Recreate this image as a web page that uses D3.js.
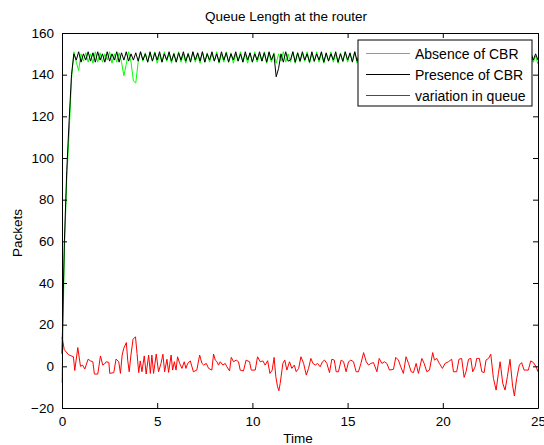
<!DOCTYPE html>
<html>
<head>
<meta charset="utf-8">
<script src="https://cdn.jsdelivr.net/npm/d3@7"></script>
<style>
    body { margin: 0; background: #fff; }
    text { font-family: "Liberation Sans", Arial, sans-serif; }
</style>
</head>
<body>
<div class="queue-chart"></div>
<script>
// queue length samples, one every 0.125 s from t = 0 to t = 25
let absenceCBR = [
    -8, 55, 90, 112, 138, 151, 146, 142,
    150, 146.5, 150.5, 146, 150, 145.5, 151, 146,
    150.5, 146, 150, 147, 151, 145.5, 150, 146,
    150.5, 146, 139.5, 145, 151, 146, 137, 136,
    146, 151, 146.5, 150.5, 146, 150, 146.5, 151,
    145.5, 150, 146, 151, 146.5, 150, 145.5, 150.5,
    146, 151, 146, 150, 145.5, 150.5, 146.5, 151,
    146, 150, 145.5, 151, 146, 150.5, 146, 150,
    146.5, 151, 145.5, 150, 146, 151, 146, 150.5,
    145.5, 150, 146.5, 151, 146, 150, 145.5, 150.5,
    146, 151, 146, 150, 146.5, 151, 145.5, 150,
    146, 150.5, 145.5, 150, 146.5, 151, 146, 150,
    146, 151, 145.5, 150.5, 146, 150, 146.5, 151,
    145.5, 150, 146, 151, 146, 150.5, 145.5, 150,
    146.5, 151, 146, 150, 145.5, 150.5, 146, 151,
    146, 150, 146.5, 151, 145.5, 150, 146, 150.5,
    146, 151, 145.5, 150, 146.5, 151, 146, 150,
    145.5, 150.5, 146, 151, 146, 150, 146.5, 151,
    146, 150, 145.5, 150.5, 146, 151, 146, 150,
    146.5, 151, 145.5, 150, 146, 150.5, 146, 151,
    145.5, 150, 146.5, 151, 146, 150, 145.5, 150.5,
    146, 151, 146, 150, 146.5, 151, 145.5, 150,
    146, 150.5, 146, 151, 145.5, 150, 146.5, 151,
    146, 150, 145.5, 150.5, 146, 151, 146, 150,
    146.5, 151, 146, 150, 148, 151, 146, 149,
    145
]
let presenceCBR = [
    6, 60, 94, 118, 140, 150, 147, 151,
    146, 150, 147, 151, 146.5, 150.5, 146, 151,
    147, 150, 146, 151, 146.5, 150, 147, 151,
    146, 150.5, 147, 151, 146.5, 150, 147, 150.5,
    146.5, 151, 147, 150, 146, 151, 146.5, 150.5,
    147, 151, 146, 150, 147, 151, 146.5, 150,
    146, 150.5, 147, 151, 146.5, 150, 146, 151,
    147, 150.5, 146.5, 151, 146, 150, 147, 151,
    146.5, 150, 146, 151, 147, 150.5, 146, 150,
    147, 151, 146.5, 150, 146, 151, 147, 150.5,
    146, 150, 147, 151, 146.5, 150.5, 146, 151,
    147, 150, 139, 143, 150, 146, 151, 146.5,
    147, 151, 146, 150.5, 146.5, 151, 147, 150,
    146, 151, 146.5, 150, 147, 151, 146, 150.5,
    146.5, 150, 147, 151, 146, 150, 146.5, 151,
    147, 150.5, 146, 151, 146.5, 150, 147, 151,
    146, 150, 146.5, 151, 147, 150.5, 146, 150,
    147, 151, 146.5, 150, 146, 151, 147, 150.5,
    146.5, 151, 146, 150, 147, 151, 146.5, 150,
    146, 150.5, 147, 151, 146.5, 150, 146, 151,
    147, 150, 146.5, 151, 146, 150.5, 147, 151,
    146, 151, 147, 150, 146.5, 151, 146, 150.5,
    147, 150, 146, 151, 146.5, 150, 147, 151,
    146.5, 150.5, 146, 151, 147, 150, 146, 151,
    147, 150, 146.5, 151, 146, 150.5, 147, 150,
    147
]
// variation in queue, read point by point
let variationTime = [
    0, 0.12, 0.35, 0.6, 0.67, 0.83, 0.97, 1.08, 1.2, 1.37, 1.5, 1.62, 1.7, 1.88,
    2.02, 2.14, 2.23, 2.32, 2.46, 2.51, 2.72, 2.84, 2.98, 3.07, 3.16, 3.24, 3.38,
    3.45, 3.53, 3.62, 3.73, 3.86, 3.94, 4.03, 4.11, 4.2, 4.32, 4.42, 4.55, 4.64,
    4.72, 4.81, 4.95, 5.07, 5.2, 5.3, 5.39, 5.51, 5.6, 5.73, 5.81, 5.9, 5.99,
    6.07, 6.18, 6.3, 6.42, 6.51, 6.6, 6.74, 6.9, 7.08, 7.23, 7.35, 7.44, 7.58,
    7.7, 7.87, 7.96, 8.05, 8.14, 8.22, 8.31, 8.45, 8.57, 8.66, 8.8, 8.89, 9.01,
    9.15, 9.27, 9.36, 9.53, 9.67, 9.85, 9.94, 10.15, 10.27, 10.41, 10.55, 10.67,
    10.8, 10.92, 11.04, 11.14, 11.23, 11.32, 11.39, 11.46, 11.6, 11.7, 11.81,
    11.95, 12.07, 12.2, 12.3, 12.43, 12.55, 12.69, 12.83, 12.95, 13.07, 13.18,
    13.3, 13.42, 13.56, 13.68, 13.79, 13.91, 14.05, 14.17, 14.3, 14.4, 14.52,
    14.66, 14.79, 14.92, 15.05, 15.17, 15.31, 15.45, 15.57, 15.7, 15.84, 15.98,
    16.1, 16.22, 16.36, 16.54, 16.66, 16.8, 16.94, 17.06, 17.2, 17.41, 17.53,
    17.67, 17.79, 17.93, 18.07, 18.2, 18.34, 18.46, 18.6, 18.72, 18.9, 19.02,
    19.16, 19.3, 19.47, 19.56, 19.68, 19.82, 19.98, 20.12, 20.29, 20.47, 20.56,
    20.73, 20.85, 20.99, 21.12, 21.22, 21.35, 21.47, 21.57, 21.7, 21.78, 21.92,
    22.05, 22.17, 22.27, 22.4, 22.52, 22.66, 22.8, 22.92, 23.01, 23.15, 23.27,
    23.39, 23.53, 23.66, 23.76, 23.88, 24.02, 24.14, 24.27, 24.37, 24.49, 24.62,
    24.76, 24.9, 25
]
let variationValue = [
    14, 8, 5.5, 4.6, -2, 9, 0, 0.6, -1.3, 3.4, 2.6, 2.2, -3.7, -3.7,
    5, 0.6, 1.1, 2.2, 1.9, -3.4, -3, 3.5, 2.2, -3.4, 5.4, 8.6, 11.4,
    3, -2.6, 5.4, 13, 14.2, 6.2, -3, 2.6, -2.6, 5, -3.7, 5.4, -3.4,
    5.4, -3.4, 5.9, -2.6, 1.4, 5.8, -2.6, 3.4, -2.9, 5.4, -1.8, 2.2, -1.8,
    4.6, 1.4, -1, 2.2, -1, 1.4, 2.6, -2.6, -1.8, 5.4, 1.4, 0.6, 1.4,
    -1, -1.8, 5.9, 3, 2.2, 0.6, 2.2, 0.6, 1.4, -0.2, -2.2, 4.3, 2.2,
    3, 2.2, -1.8, -2.2, 3, 2.2, -1.8, -1.8, 4.6, 2.2, 2.6, 0.6,
    2.7, -3.4, -1.8, 4.3, -5, -9.8, -11.7, -8.2, 1.4, 3, -1.8,
    2.2, -1, 0.6, -2.6, -1, 4.6, 1.4, -4.2, -1, 3.8, 1.4,
    0.6, 1.4, -0.2, 2.2, 3, 1.4, -3, 3.4, 3, -2.6, -2.6,
    3, 2.2, -2.6, 2.2, 3, 2.2, -2.6, -2.6, 1.4, 6.6, 2.2,
    0.6, 1.4, 1.8, -2.6, 3.8, 1.4, 2.2, 1.4, -1.8, -1.4, 4.3,
    3, -0.2, -3.4, 4.6, 1.4, -2.6, -3, 1.4, -3.4, 3.8, 1.4,
    -2.6, -1.8, 6.6, 3, 3.8, 1.4, -1, 1.4, 2.2, 3.4, -2.6,
    -2.6, 3.4, 3.8, -5.3, -2.6, 3.4, 3.8, -2.6, -0.2, 3.8, 3.8,
    -2.6, -3, 3, 3.8, 5.8, -5.8, -11.4, -3.4, 2.2, -8.2, -11.4,
    -5, 3.4, -9, -14.2, -5.8, 0.6, 1.8, -1.8, -1.8, -1.8, 2.6,
    1.8, -0.2, -2.6
]
let legendLabels = ["Absence of CBR", "Presence of CBR", "variation in queue"]
let lineColors = ["#00ff00", "#000000", "#ff0000"]
let xTickValues = [0, 5, 10, 15, 20, 25]
let yTickValues = [-20, 0, 20, 40, 60, 80, 100, 120, 140, 160]

let width = 544,
    height = 445,
    marginLeft = 62,
    marginRight = 6,
    marginTop = 33,
    marginBottom = 37,
    fontSize = 13.5

let svg = d3.select(".queue-chart")
    .append("svg")
    .attr("width", width)
    .attr("height", height)

let xScale = d3.scaleLinear()
    .domain([0, 25])
    .range([marginLeft, width - marginRight])
let yScale = d3.scaleLinear()
    .domain([-20, 160])
    .range([height - marginBottom, marginTop])

let sampleTime = absenceCBR.map((d, i) => i * 0.125)
let series = [
    absenceCBR.map((d, i) => [sampleTime[i], d]),
    presenceCBR.map((d, i) => [sampleTime[i], d]),
    variationValue.map((d, i) => [variationTime[i], d])
]

let line = d3.line()
    .x((d) => xScale(d[0]))
    .y((d) => yScale(d[1]))

series.forEach((item, index) => {
    svg.append("path")
        .attr("class", "series-line")
        .attr("fill", "none")
        .attr("stroke", lineColors[index])
        .attr("stroke-width", 1)
        .attr("d", line(item))
})

//坐标轴, 刻度朝内
svg.append("g")
    .attr("transform", `translate(0,${height - marginBottom})`)
    .call(d3.axisBottom(xScale).tickValues(xTickValues).tickSizeInner(-5).tickSizeOuter(0).tickPadding(8))
svg.append("g")
    .attr("transform", `translate(0,${marginTop})`)
    .call(d3.axisTop(xScale).tickValues(xTickValues).tickSizeInner(-5).tickSizeOuter(0).tickFormat(""))
svg.append("g")
    .attr("transform", `translate(${marginLeft},0)`)
    .call(d3.axisLeft(yScale).tickValues(yTickValues).tickSizeInner(-5).tickSizeOuter(0).tickPadding(8))
svg.append("g")
    .attr("transform", `translate(${width - marginRight},0)`)
    .call(d3.axisRight(yScale).tickValues(yTickValues).tickSizeInner(-5).tickSizeOuter(0).tickFormat(""))

svg.selectAll(".domain").attr("stroke", "#000")
svg.selectAll(".tick line").attr("stroke", "#000")
svg.selectAll(".tick text")
    .attr("font-size", fontSize)
    .attr("font-family", "Liberation Sans, Arial, sans-serif")
    .attr("fill", "#000")

svg.append("text")
    .attr("x", 286)
    .attr("y", 21)
    .attr("text-anchor", "middle")
    .attr("font-size", fontSize)
    .text("Queue Length at the router")
svg.append("text")
    .attr("x", 298)
    .attr("y", 443)
    .attr("text-anchor", "middle")
    .attr("font-size", fontSize)
    .text("Time")
svg.append("text")
    .attr("transform", "translate(22,233) rotate(-90)")
    .attr("text-anchor", "middle")
    .attr("font-size", fontSize)
    .text("Packets")

//图例
let legendX = 358, legendY = 40
svg.append("rect")
    .attr("x", legendX)
    .attr("y", legendY)
    .attr("width", 174)
    .attr("height", 66)
    .attr("fill", "#fff")
    .attr("stroke", "#000")
    .attr("stroke-width", 1)
legendLabels.forEach((item, index) => {
    let rowY = legendY + 13.5 + index * 21
    svg.append("line")
        .attr("x1", legendX + 8)
        .attr("x2", legendX + 52)
        .attr("y1", rowY)
        .attr("y2", rowY)
        .style("stroke", lineColors[index])
        .style("stroke-width", 1)
    svg.append("text")
        .attr("x", legendX + 57)
        .attr("y", rowY + 5)
        .attr("font-size", 14)
        .attr("fill", "#000")
        .text(item)
})
</script>
</body>
</html>
